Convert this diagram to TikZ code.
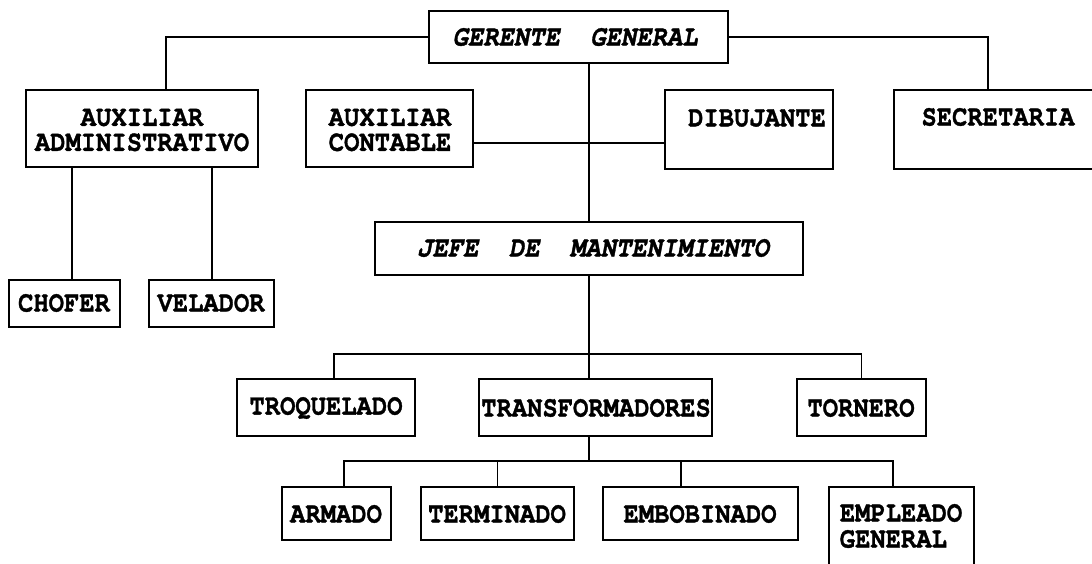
\documentclass[tikz,border=0pt]{standalone}
\usepackage{graphicx}
\usepackage{fontspec}
\setmainfont{texgyrecursor}[Extension=.otf, UprightFont=*-regular, BoldFont=*-bold, ItalicFont=*-italic, BoldItalicFont=*-bolditalic, BoldFeatures={FakeBold=1.2}, BoldItalicFeatures={FakeBold=1.2}]
\newcommand\tl[1]{\scalebox{1}[1.15]{#1}}
\begin{document}
\begin{tikzpicture}[x=1pt,y=-1pt,
  box/.style={draw, line width=1.7pt, inner sep=0pt, outer sep=0pt, anchor=north west},
  lbl/.style={font=\fontsize{25.5}{23}\selectfont\bfseries, align=center, inner sep=0pt},
  ilbl/.style={font=\fontsize{25.5}{23}\selectfont\bfseries\itshape, align=center, inner sep=0pt},
  wire/.style={line width=1.6pt}]
\useasboundingbox (0,0) rectangle (1092,563);
\clip (0,0) rectangle (1092,563);
% boxes
\node[box, minimum width=299pt, minimum height=52pt] (ger) at (429,11) {};
\node[box, minimum width=232pt, minimum height=77pt] (aa) at (26,90) {};
\node[box, minimum width=167pt, minimum height=77pt] (ac) at (306,90) {};
\node[box, minimum width=168pt, minimum height=79pt] (dib) at (665,90) {};
\node[box, minimum width=210pt, minimum height=79pt] (sec) at (894,90) {};
\node[box, minimum width=428pt, minimum height=53pt] (jefe) at (375,222) {};
\node[box, minimum width=111pt, minimum height=47pt] (chofer) at (9,280) {};
\node[box, minimum width=125pt, minimum height=47pt] (velador) at (149,280) {};
\node[box, minimum width=178pt, minimum height=57pt] (troq) at (237,379) {};
\node[box, minimum width=233pt, minimum height=57pt] (trans) at (479,379) {};
\node[box, minimum width=129pt, minimum height=57pt] (torn) at (797,379) {};
\node[box, minimum width=109pt, minimum height=53pt] (armado) at (282,487) {};
\node[box, minimum width=153pt, minimum height=53pt] (term) at (421,487) {};
\node[box, minimum width=195pt, minimum height=53pt] (embo) at (603,487) {};
\node[box, minimum width=145pt, minimum height=90pt] (emp) at (829,487) {};
% labels
\node[ilbl] (ger-t) at (575,37) {\tl{GERENTE\ \ GENERAL}};
\node[lbl] (aa-t) at (142,130) {\tl{AUXILIAR}\\[2pt]\tl{ADMINISTRATIVO}};
\node[lbl] (ac-t) at (390,130) {\tl{AUXILIAR}\\[2pt]\tl{CONTABLE}};
\node[lbl] (dib-t) at (757,118) {\tl{DIBUJANTE}};
\node[lbl] (sec-t) at (998,117) {\tl{SECRETARIA}};
\node[ilbl] (jefe-t) at (593,248) {\tl{JEFE\ \ DE\ \ MANTENIMIENTO}};
\node[lbl] (chofer-t) at (64,303) {\tl{CHOFER}};
\node[lbl] (velador-t) at (211,303) {\tl{VELADOR}};
\node[lbl] (troq-t) at (326,408) {\tl{TROQUELADO}};
\node[lbl] (trans-t) at (596,408) {\tl{TRANSFORMADORES}};
\node[lbl] (torn-t) at (861,408) {\tl{TORNERO}};
\node[lbl] (armado-t) at (336,514) {\tl{ARMADO}};
\node[lbl] (term-t) at (497,514) {\tl{TERMINADO}};
\node[lbl] (embo-t) at (700,514) {\tl{EMBOBINADO}};
\node[lbl, align=left] (emp-t) at (901,526) {\tl{EMPLEADO}\\[3pt]\tl{GENERAL}};
% connector helpers
\coordinate (sp) at (589,143);
\coordinate (bus1) at (589,354);
\coordinate (bus2) at (589,461);
\coordinate (c1) at (72,0);
\coordinate (c2) at (212,0);
% connectors
\draw[wire] (ger.west) -| ([xshift=24pt]aa.north);
\draw[wire] (ger.east) -| ([xshift=94pt]sec.north west);
\draw[wire] (ger.south -| sp) -- (jefe.north -| sp);
\draw[wire] (ac.east |- sp) -- (dib.west |- sp);
\draw[wire] (aa.south -| c1) -- (chofer.north -| c1);
\draw[wire] (aa.south -| c2) -- (velador.north -| c2);
\draw[wire] (jefe.south -| bus1) -- (trans.north -| bus1);
\draw[wire] ([xshift=8pt]troq.north) |- (bus1) -| (torn.north);
\draw[wire] (trans.south -| bus2) -- (bus2);
\draw[wire] ([xshift=7.5pt]armado.north) |- (bus2) -| ([xshift=-8.5pt]emp.north);
\draw[wire] (term.north |- bus2) -- (term.north);
\draw[wire] ([xshift=-19.5pt]embo.north |- bus2) -- ([xshift=-19.5pt]embo.north);
\end{tikzpicture}
\end{document}
